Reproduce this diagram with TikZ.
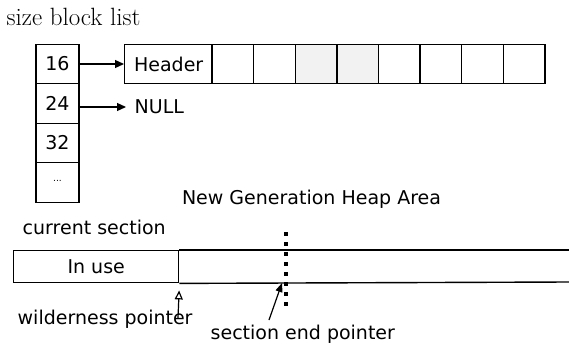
\documentclass[tikz,border=0pt]{standalone}
\usepackage{fontspec}
\newfontfamily\dejavu{DejaVu Sans}
\usetikzlibrary{arrows.meta}

\begin{document}
\begin{tikzpicture}[x=1pt, y=-1pt, line width=1.4pt,
        every node/.style={font=\dejavu\fontsize{19}{22}\selectfont, inner sep=0pt},
        slot/.style={draw, minimum width=43pt, minimum height=39.5pt},
        cell/.style={draw, minimum width=41.6pt, minimum height=39.5pt},
        ptr/.style={-{Triangle[length=9pt, width=8pt]}, line width=1.2pt}]

        \useasboundingbox (0,0) rectangle (569,345);

        \node[anchor=west, font=\rmfamily\fontsize{25}{28}\selectfont] (title) at (6,17) {size block list};

        \node[slot] (s16) at (57.5,64) {16};
        \node[slot] (s24) at (57.5,103.5) {24};
        \node[slot] (s32) at (57.5,143) {32};
        \node[slot] (sdots) at (57.5,182.5) {\raisebox{4pt}{\fontsize{9}{10}\selectfont ...}};

        \node[cell, minimum width=88pt, anchor=west] (hdr) at (124,64) {Header};
        \foreach \i/\shade in {1/white, 2/white, 3/gray!10, 4/gray!10, 5/white, 6/white, 7/white, 8/white}
            \node[cell, fill=\shade] (c\i) at ({191.2+41.625*\i}, 64) {};

        \node[anchor=west] (null) at (134,107) {NULL};

        \draw[ptr] (s16) -- (hdr);
        \draw[ptr, shorten >=8pt] (s24.east |- null.west) -- (null.west);

        \node (heapname) at (311.5,199) {New Generation Heap Area};
        \node[anchor=west] (cursec) at (22,227) {current section};

        \node[draw, minimum width=165pt, minimum height=32pt, anchor=north west] (inuse) at (13,250) {In use};
        \coordinate (bartop) at (569,250);
        \coordinate (barbot) at (569,282);
        \draw (inuse.north east) -- (bartop);
        \draw (inuse.south east) -- (barbot);

        \coordinate (cuttop) at (286,232);
        \coordinate (cutbot) at (286,310);
        \draw[line width=4pt, dash pattern=on 4pt off 6pt] (cuttop) -- (cutbot);

        \node[anchor=west] (wild) at (17,319) {wilderness pointer};
        \coordinate (wtail) at (178,318);
        \draw[-{Triangle[open, length=9pt, width=8pt]}, line width=1.2pt, shorten >=7pt] (wtail) -- (inuse.south east);

        \node[anchor=west] (secend) at (210,334) {section end pointer};
        \coordinate (stail) at (269,320);
        \coordinate (stip) at (282,283);
        \draw[ptr, -{Triangle[length=9pt, width=7pt]}] (stail) -- (stip);
\end{tikzpicture}
\end{document}
